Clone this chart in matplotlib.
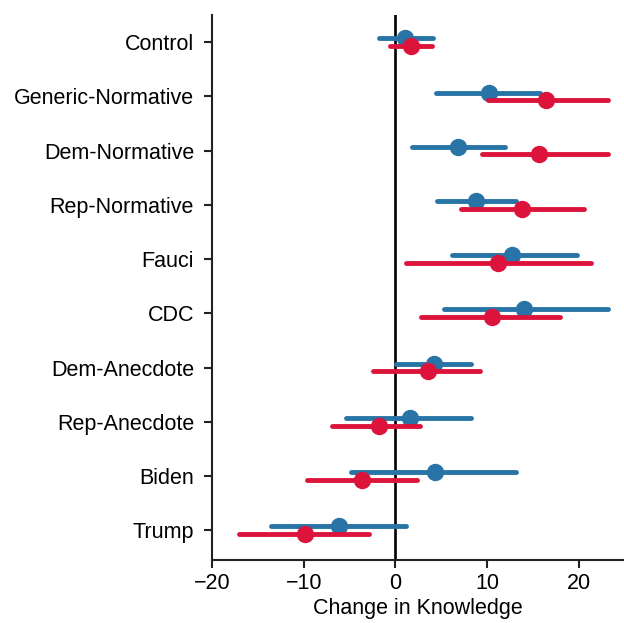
import matplotlib
matplotlib.use("Agg")
import matplotlib.pyplot as plt
import numpy as np

plt.rcParams['font.family'] = ['Liberation Sans', 'DejaVu Sans']

categories = ["Control", "Generic-Normative", "Dem-Normative", "Rep-Normative",
              "Fauci", "CDC", "Dem-Anecdote", "Rep-Anecdote", "Biden", "Trump"]

blue_mean = [1.05, 10.2, 6.8, 8.8, 12.7, 14.0, 4.2, 1.6, 4.3, -6.2]
blue_lo = [-1.85, 4.4, 1.85, 4.5, 6.2, 5.3, 0.05, -5.4, -4.9, -13.6]
blue_hi = [4.1, 15.8, 11.9, 13.2, 19.8, 23.2, 8.2, 8.2, 13.1, 1.2]

red_mean = [1.7, 16.45, 15.7, 13.8, 11.2, 10.5, 3.5, -1.85, -3.65, -9.9]
red_lo = [-0.6, 10.1, 9.45, 7.2, 1.2, 2.75, -2.45, -6.9, -9.6, -17.1]
red_hi = [3.95, 23.2, 23.2, 20.6, 21.3, 17.9, 9.2, 2.7, 2.3, -2.9]

blue_color = "#2874a6"
red_color = "#dc143c"

fig = plt.figure(figsize=(6.24, 6.23), dpi=100)
ax = fig.add_axes([0.34, 0.101, 0.658, 0.875])

y = np.arange(len(categories))
off = 0.07
ax.axvline(0, color="black", lw=1.9, zorder=1)
ax.hlines(y - off, blue_lo, blue_hi, color=blue_color, lw=3.5, zorder=2, capstyle='round')
ax.plot(blue_mean, y - off, 'o', color=blue_color, ms=11.5, zorder=3)
ax.hlines(y + off, red_lo, red_hi, color=red_color, lw=3.5, zorder=4, capstyle='round')
ax.plot(red_mean, y + off, 'o', color=red_color, ms=11.5, zorder=5)

fs = 15.5
ax.set_yticks(y)
ax.set_yticklabels(categories, fontsize=fs)
ax.set_ylim(9.55, -0.5)
ax.set_xlim(-20, 24.8)
ax.set_xticks([-20, -10, 0, 10, 20])
ax.tick_params(axis='x', labelsize=fs, length=6, width=1.5, color="#222222", pad=3)
ax.tick_params(axis='y', length=6, width=1.5, color="#222222", pad=7)
ax.set_xlabel("Change in Knowledge", fontsize=fs, labelpad=3)
for s in ["top", "right"]:
    ax.spines[s].set_visible(False)
for s in ["left", "bottom"]:
    ax.spines[s].set_linewidth(1.5)
    ax.spines[s].set_color("#222222")

fig.savefig("out.png", dpi=100)
